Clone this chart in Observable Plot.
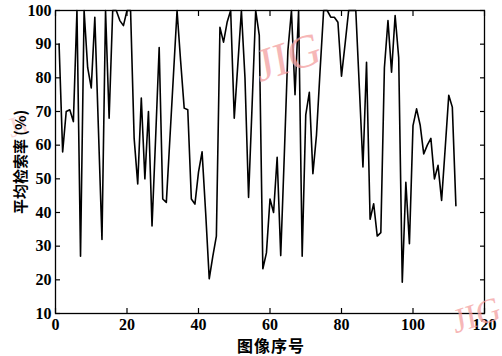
<!DOCTYPE html>
<html>
<head>
<meta charset="utf-8">
<script src="https://cdn.jsdelivr.net/npm/d3@7"></script>
<script src="https://cdn.jsdelivr.net/npm/@observablehq/plot@0.6"></script>
<style>
  html, body { margin: 0; padding: 0; background: #fff; }
  #wrap { position: relative; width: 502px; height: 356px; overflow: hidden; }
  .lbl { position: absolute; font-family: "Noto Sans CJK SC", sans-serif; font-weight: bold; font-size: 15px; color: #000; white-space: nowrap; }
  .wm { position: absolute; font-family: "Liberation Serif", serif; color: #f4a0a0; white-space: nowrap; opacity: 0.75; }
</style>
</head>
<body>
<div id="wrap"></div>
<script>
// Image index (x) and average retrieval rate in % (y)
const imageIndex = d3.range(1, 113);
const retrievalRate = [
  90, 58, 70, 70.5, 67, 100, 27, 100, 83, 77,
  98, 65, 32, 100, 68, 100, 100, 97, 95.5, 100,
  100, 62, 48.5, 74, 50, 70, 36, 62, 89, 44,
  43, 62, 81, 100, 85, 71, 70.5, 44, 42.5, 52,
  58, 40, 20.3, 27, 33, 95, 90.6, 96.5, 100, 68,
  84, 100, 80, 44.5, 72, 100, 92.6, 23.3, 28, 44,
  40, 56.4, 27.2, 57, 88, 100, 75, 100, 27, 69,
  75.7, 51.5, 63, 82, 100, 100, 98, 98, 96.5, 80.5,
  90, 100, 100, 100, 77, 53.5, 84.6, 38, 42.6, 33,
  34, 83, 97, 81.7, 98.5, 86, 19.3, 49, 30.7, 65.8,
  70.8, 66, 57.4, 60, 62, 50, 54, 43.6, 59, 74.8,
  71.3, 42
];
const xTicks = [0, 20, 40, 60, 80, 100, 120];
const yTicks = [10, 20, 30, 40, 50, 60, 70, 80, 90, 100];
const xTitle = "图像序号";
const yTitle = "平均检索率 (%)";

const data = imageIndex.map((x, i) => ({x, y: retrievalRate[i]}));
const tickFont = {fontFamily: "Liberation Serif, serif", fontWeight: "bold", fontSize: 16, fill: "#000"};

const chart = Plot.plot({
  width: 502,
  height: 356,
  marginLeft: 55,
  marginRight: 18,
  marginTop: 10,
  marginBottom: 43,
  x: {domain: [0, 120]},
  y: {domain: [10, 100]},
  style: {background: "transparent", fontFamily: "Liberation Serif, serif"},
  marks: [
    Plot.line(data, {x: "x", y: "y", stroke: "#000", strokeWidth: 1.6}),
    Plot.frame({stroke: "#000", strokeWidth: 1.3}),
    Plot.axisX(xTicks, {anchor: "bottom", tickSize: 0, tickPadding: 5, label: null, ...tickFont}),
    Plot.axisX(xTicks, {anchor: "bottom", tickSize: -5, tickFormat: () => "", label: null, strokeWidth: 1.2}),
    Plot.axisX(xTicks, {anchor: "top", tickSize: -5, tickFormat: () => "", label: null, strokeWidth: 1.2}),
    Plot.axisY(yTicks, {anchor: "left", tickSize: 0, tickPadding: 4, label: null, ...tickFont}),
    Plot.axisY(yTicks, {anchor: "left", tickSize: -5, tickFormat: () => "", label: null, strokeWidth: 1.2}),
    Plot.axisY(yTicks, {anchor: "right", tickSize: -5, tickFormat: () => "", label: null, strokeWidth: 1.2})
  ]
});

const wrap = document.getElementById("wrap");
wrap.appendChild(chart);

function addDiv(cls, text, css) {
  const d = document.createElement("div");
  d.className = cls;
  d.textContent = text;
  Object.assign(d.style, css);
  wrap.appendChild(d);
}
addDiv("wm", "JIG", {left: "255px", top: "30px", fontSize: "46px", transform: "rotate(-18deg) skewX(-8deg)"});
addDiv("wm", "JIG", {left: "452px", top: "296px", fontSize: "34px", transform: "rotate(-18deg) skewX(-8deg)"});
addDiv("wm", "JI", {left: "8px", top: "110px", fontSize: "28px", transform: "rotate(-18deg)", opacity: "0.4"});
addDiv("lbl", xTitle, {left: "237px", top: "333px", fontSize: "16px", letterSpacing: "1px"});
addDiv("lbl", yTitle, {left: "19px", top: "162px", fontSize: "15px", transform: "translate(-50%, -50%) rotate(-90deg)"});
</script>
</body>
</html>
